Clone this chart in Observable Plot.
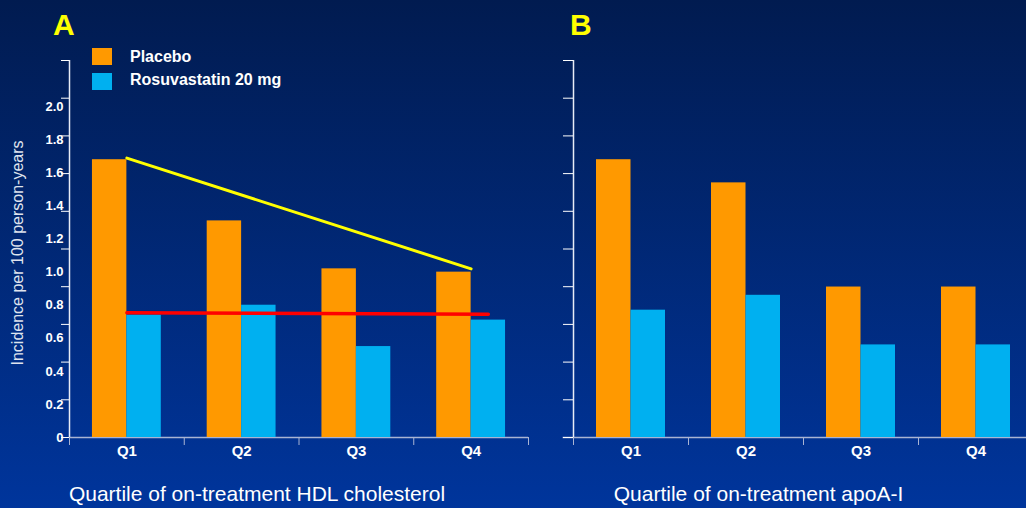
<!DOCTYPE html>
<html>
<head>
<meta charset="utf-8">
<script src="https://cdn.jsdelivr.net/npm/d3@7"></script>
<script src="https://cdn.jsdelivr.net/npm/@observablehq/plot@0.6"></script>
<style>
  html, body { margin: 0; padding: 0; overflow: hidden; }
  #wrap { position: relative; width: 1026px; height: 508px; overflow: hidden;
          background: linear-gradient(#011b50, #00359c);
          font-family: "Liberation Sans", Arial, sans-serif; }
  .panel { position: absolute; top: 0; }
  .panel svg { overflow: visible; max-width: none !important; }
  .sw { position: absolute; width: 20px; height: 17px; }
  .lg { position: absolute; color: white; font-weight: bold; font-size: 16px; line-height: 18px; }
  .letter { position: absolute; color: #ffff00; font-weight: bold; font-size: 30px; line-height: 30px; }
</style>
</head>
<body>
<div id="wrap">
  <div id="plotA" class="panel" style="left:0"></div>
  <div id="plotB" class="panel" style="left:513px"></div>
  <div class="letter" style="left:53px;top:10px">A</div>
  <div class="letter" style="left:570px;top:10px">B</div>
  <div class="sw" style="left:92px;top:48px;background:#ff9900"></div>
  <div class="sw" style="left:92px;top:73px;background:#00b0f0"></div>
  <div class="lg" style="left:130px;top:48px">Placebo</div>
  <div class="lg" style="left:130px;top:71px">Rosuvastatin 20 mg</div>
</div>
<script>
// ---- data ----
const quartiles = ["Q1", "Q2", "Q3", "Q4"];
const series = ["Placebo", "Rosuvastatin 20 mg"];
const hdlPlacebo = [1.68, 1.31, 1.02, 1.00];
const hdlRosuva  = [0.74, 0.80, 0.55, 0.71];
const apoPlacebo = [1.68, 1.54, 0.91, 0.91];
const apoRosuva  = [0.77, 0.86, 0.56, 0.56];
const yLabels = [0, 0.2, 0.4, 0.6, 0.8, 1.0, 1.2, 1.4, 1.6, 1.8, 2.0];
const yTicks  = [0, 0.228, 0.456, 0.684, 0.912, 1.14, 1.368, 1.596, 1.824, 2.052, 2.28];
const placeboTrend = [{q: 1, v: 1.69}, {q: 4, v: 1.02}];
const rosuvaTrend  = [{q: 1, v: 0.755}, {q: 4.15, v: 0.745}];
const xTitleA = "Quartile of on-treatment HDL cholesterol";
const xTitleB = "Quartile of on-treatment apoA-I";
const yTitle = "Incidence per 100 person-years";

const colors = {placebo: "#ff9900", rosuva: "#00b0f0"};
const font = '"Liberation Sans", Arial, sans-serif';

function rows(vals) { return quartiles.map((q, i) => ({q: i + 1, label: q, v: vals[i]})); }
const bounds = [0.5, 1.5, 2.5, 3.5, 4.5];

function panel({placebo, rosuva, width, marginLeft, marginRight, tickLen, labels, trends, title, titleDx, axisExt}) {
  const marks = [
    Plot.ruleY([0], {x1: 0.5 - axisExt, x2: 4.5, stroke: "#a9b4d3", strokeWidth: 1.5}),
    Plot.axisX(bounds, {tickSize: 8, tickFormat: () => "", stroke: "#a9b4d3", label: null}),
    Plot.axisX([1, 2, 3, 4], {tickSize: 0, tickPadding: 8, tickFormat: d => quartiles[d - 1],
      fill: "white", fontWeight: "bold", fontSize: 15, label: null}),
    Plot.ruleX([0.5], {stroke: "#e8ecf6", strokeWidth: 1.5}),
    Plot.axisY(yTicks, {tickSize: tickLen, tickFormat: () => "", stroke: "white", label: null}),
    Plot.rectY(rows(placebo), {x1: d => d.q - 0.3, x2: d => d.q, y1: 0, y2: "v", fill: colors.placebo}),
    Plot.rectY(rows(rosuva), {x1: d => d.q, x2: d => d.q + 0.3, y1: 0, y2: "v", fill: colors.rosuva}),
    Plot.text([title], {frameAnchor: "bottom", textAnchor: "middle", dx: titleDx, dy: 63, fill: "white", fontSize: 21})
  ];
  if (labels) {
    marks.push(Plot.axisY(yLabels, {tickSize: 0, tickPadding: 6, label: null,
      tickFormat: d => d === 0 ? "0" : d.toFixed(1), fill: "white", fontWeight: "bold", fontSize: 13}));
    marks.push(Plot.text([yTitle], {frameAnchor: "left", textAnchor: "middle", rotate: -90, dx: -52, dy: 4,
      fill: "#dfe3ee", fontSize: 16}));
  }
  if (trends) {
    marks.push(Plot.line(placeboTrend, {x: "q", y: "v", stroke: "#ffff00", strokeWidth: 3}));
    marks.push(Plot.line(rosuvaTrend, {x: "q", y: "v", stroke: "#ff0000", strokeWidth: 3.5}));
  }
  return Plot.plot({
    width, height: 508,
    marginLeft, marginRight, marginTop: 60, marginBottom: 71,
    style: {background: "transparent", color: "white", fontFamily: font, overflow: "visible"},
    x: {type: "linear", domain: [0.5, 4.5]},
    y: {domain: [0, 2.28]},
    marks
  });
}

document.getElementById("plotA").append(panel({
  placebo: hdlPlacebo, rosuva: hdlRosuva, width: 540, marginLeft: 69, marginRight: 12,
  tickLen: 8, labels: true, trends: true, title: xTitleA, titleDx: -42, axisExt: 0
}));
document.getElementById("plotB").append(panel({
  placebo: apoPlacebo, rosuva: apoRosuva, width: 520, marginLeft: 60, marginRight: 0,
  tickLen: 10, labels: false, trends: false, title: xTitleB, titleDx: -45, axisExt: 0.09
}));
</script>
</body>
</html>
